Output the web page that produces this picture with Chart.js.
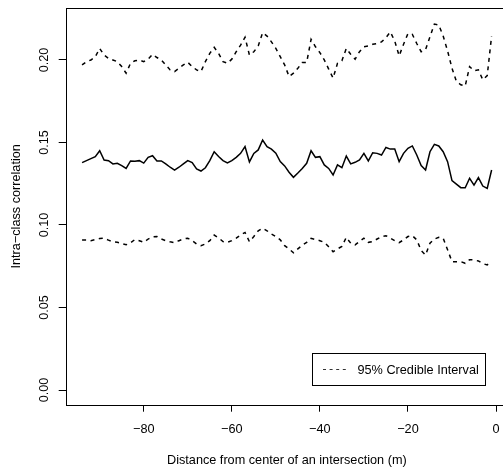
<!DOCTYPE html>
<html>
<head>
<meta charset="utf-8">
<script src="https://cdn.jsdelivr.net/npm/chart.js@4/dist/chart.umd.min.js"></script>
<style>
  html, body { margin: 0; padding: 0; background: #fff; overflow: hidden; }
  #wrap { width: 512px; height: 470px; }
</style>
</head>
<body>
<div id="wrap"><canvas id="c" width="512" height="470"></canvas></div>
<script>
// Distance from the intersection centre (m)
const distance = [
  -94,-93,-92,-91,-90,-89,-88,-87,-86,-85,-84,-83,-82,-81,-80,-79,-78,-77,-76,-75,
  -74,-73,-72,-71,-70,-69,-68,-67,-66,-65,-64,-63,-62,-61,-60,-59,-58,-57,-56,-55,
  -54,-53,-52,-51,-50,-49,-48,-47,-46,-45,-44,-43,-42,-41,-40,-39,-38,-37,-36,-35,
  -34,-33,-32,-31,-30,-29,-28,-27,-26,-25,-24,-23,-22,-21,-20,-19,-18,-17,-16,-15,
  -14,-13,-12,-11,-10,-9,-8,-7,-6,-5,-4,-3,-2,-1
];

// Posterior mean of the intra-class correlation
const iccMean = [
  0.1378,0.1390,0.1402,0.1414,0.1450,0.1394,0.1390,0.1370,0.1374,0.1360,
  0.1343,0.1388,0.1386,0.1390,0.1375,0.1410,0.1420,0.1388,0.1388,0.1370,
  0.1350,0.1333,0.1350,0.1370,0.1390,0.1378,0.1340,0.1327,0.1347,0.1390,
  0.1444,0.1415,0.1390,0.1376,0.1390,0.1410,0.1434,0.1475,0.1382,0.1434,
  0.1455,0.1515,0.1475,0.1460,0.1435,0.1384,0.1358,0.1320,0.1289,0.1315,
  0.1343,0.1374,0.1450,0.1410,0.1414,0.1364,0.1343,0.1303,0.1364,0.1347,
  0.1418,0.1370,0.1380,0.1394,0.1434,0.1388,0.1438,0.1434,0.1424,0.1470,
  0.1460,0.1460,0.1384,0.1434,0.1465,0.1479,0.1424,0.1360,0.1333,0.1444,
  0.1489,0.1479,0.1444,0.1384,0.1269,0.1248,0.1226,0.1226,0.1283,0.1242,
  0.1287,0.1236,0.1222,0.1333
];

// Upper bound of the 95% credible interval
const iccUpper = [
  0.1970,0.1990,0.2000,0.2020,0.2070,0.2030,0.2010,0.2000,0.1990,0.1960,
  0.1920,0.1980,0.1995,0.2000,0.1990,0.2005,0.2034,0.2015,0.2000,0.1970,
  0.1940,0.1930,0.1950,0.1970,0.1986,0.1960,0.1940,0.1930,0.1990,0.2040,
  0.2077,0.2040,0.1990,0.1980,0.2005,0.2050,0.2090,0.2138,0.2030,0.2050,
  0.2085,0.2166,0.2145,0.2110,0.2070,0.2020,0.1970,0.1900,0.1920,0.1950,
  0.1985,0.1985,0.2125,0.2080,0.2045,0.2000,0.1945,0.1890,0.1980,0.1995,
  0.2070,0.2035,0.2005,0.2050,0.2080,0.2085,0.2095,0.2100,0.2110,0.2135,
  0.2170,0.2115,0.2025,0.2095,0.2160,0.2155,0.2100,0.2050,0.2063,0.2141,
  0.2218,0.2212,0.2145,0.2055,0.1950,0.1870,0.1850,0.1842,0.1960,0.1935,
  0.1940,0.1880,0.1905,0.2145
];

// Lower bound of the 95% credible interval
const iccLower = [
  0.0909,0.0909,0.0905,0.0912,0.0918,0.0920,0.0908,0.0898,0.0895,0.0888,
  0.0880,0.0892,0.0912,0.0905,0.0895,0.0915,0.0928,0.0930,0.0915,0.0905,
  0.0898,0.0893,0.0905,0.0915,0.0920,0.0905,0.0885,0.0875,0.0885,0.0905,
  0.0939,0.0922,0.0900,0.0895,0.0905,0.0920,0.0940,0.0955,0.0899,0.0930,
  0.0965,0.0980,0.0965,0.0945,0.0930,0.0910,0.0875,0.0855,0.0832,0.0855,
  0.0878,0.0895,0.0919,0.0912,0.0905,0.0895,0.0868,0.0838,0.0855,0.0870,
  0.0925,0.0890,0.0879,0.0900,0.0920,0.0895,0.0900,0.0915,0.0930,0.0935,
  0.0920,0.0905,0.0893,0.0910,0.0930,0.0935,0.0910,0.0845,0.0818,0.0890,
  0.0915,0.0925,0.0920,0.0850,0.0778,0.0778,0.0778,0.0768,0.0790,0.0788,
  0.0782,0.0766,0.0758,0.0780
];

// Axis tick values
const xTicks = [-80, -60, -40, -20, 0];
const yTicks = [0.00, 0.05, 0.10, 0.15, 0.20];

const xTitle = 'Distance from center of an intersection (m)';
const yTitle = 'Intra\u2212class correlation';
const legendLabel = '95% Credible Interval';

const FONT = '12.7px "Liberation Sans", Arial, Helvetica, sans-serif';

function pts(arr) { return arr.map((v, i) => ({ x: distance[i], y: v })); }
function fmtX(v) { return v < 0 ? '\u2212' + Math.abs(v) : String(v); }
function fmtY(v) { return v.toFixed(2); }

// Box, tick labels, axis titles and legend in base-graphics style
const frame = {
  id: 'frame',
  afterDraw(chart) {
    const { ctx, chartArea: a, scales } = chart;
    ctx.save();
    ctx.strokeStyle = '#000';
    ctx.lineWidth = 1;
    ctx.strokeRect(Math.round(a.left) + 0.5, Math.round(a.top) + 0.5,
                   Math.round(a.right - a.left), Math.round(a.bottom - a.top));

    ctx.fillStyle = '#000';
    ctx.font = FONT;

    // x tick labels
    ctx.textAlign = 'center';
    ctx.textBaseline = 'alphabetic';
    xTicks.forEach(v => {
      ctx.fillText(fmtX(v), scales.x.getPixelForValue(v), 433);
    });
    // x title
    ctx.fillText(xTitle, (a.left + a.right) / 2, 463.5);

    // y tick labels (rotated)
    yTicks.forEach(v => {
      ctx.save();
      ctx.translate(48, scales.y.getPixelForValue(v));
      ctx.rotate(-Math.PI / 2);
      ctx.fillText(fmtY(v), 0, 0);
      ctx.restore();
    });
    // y title
    ctx.save();
    ctx.translate(20, (a.top + a.bottom) / 2);
    ctx.rotate(-Math.PI / 2);
    ctx.fillText(yTitle, 0, 0);
    ctx.restore();

    // legend
    const lx = 312.5, ly = 353.5, lw = 173, lh = 32;
    ctx.fillStyle = '#fff';
    ctx.fillRect(lx, ly, lw, lh);
    ctx.strokeStyle = '#000';
    ctx.lineWidth = 1;
    ctx.strokeRect(lx, ly, lw, lh);
    ctx.beginPath();
    ctx.setLineDash([3, 3.6]);
    ctx.lineWidth = 1;
    ctx.strokeStyle = '#333';
    ctx.moveTo(323, 369.5);
    ctx.lineTo(346, 369.5);
    ctx.stroke();
    ctx.setLineDash([]);
    ctx.fillStyle = '#000';
    ctx.textAlign = 'left';
    ctx.fillText(legendLabel, 357.5, 373.8);
    ctx.restore();
  }
};

new Chart(document.getElementById('c'), {
  type: 'line',
  data: {
    datasets: [
      { label: 'Mean', data: pts(iccMean), borderColor: '#000', borderWidth: 1.5,
        pointRadius: 0, tension: 0, fill: false },
      { label: legendLabel, data: pts(iccUpper), borderColor: '#000', borderWidth: 1.5,
        borderDash: [4, 4.5], pointRadius: 0, tension: 0, fill: false },
      { label: legendLabel + ' (lower)', data: pts(iccLower), borderColor: '#000', borderWidth: 1.5,
        borderDash: [4, 4.5], pointRadius: 0, tension: 0, fill: false }
    ]
  },
  options: {
    responsive: false,
    animation: false,
    devicePixelRatio: 1,
    layout: { padding: { top: 8, right: 4, left: 0, bottom: 0 } },
    plugins: { legend: { display: false }, tooltip: { enabled: false } },
    scales: {
      x: {
        type: 'linear',
        min: -97.72,
        max: 2.72,
        afterFit(s) { s.height = 65.3; },
        afterBuildTicks(s) { s.ticks = xTicks.map(v => ({ value: v })); },
        ticks: { display: false },
        border: { display: false },
        grid: { drawOnChartArea: false, drawTicks: true, tickLength: 7, color: '#000', lineWidth: 1 }
      },
      y: {
        type: 'linear',
        min: -0.0089,
        max: 0.2315,
        afterFit(s) { s.width = 65.7; },
        afterBuildTicks(s) { s.ticks = yTicks.map(v => ({ value: v })); },
        ticks: { display: false },
        border: { display: false },
        grid: { drawOnChartArea: false, drawTicks: true, tickLength: 7, color: '#000', lineWidth: 1 }
      }
    }
  },
  plugins: [frame]
});
</script>
</body>
</html>
